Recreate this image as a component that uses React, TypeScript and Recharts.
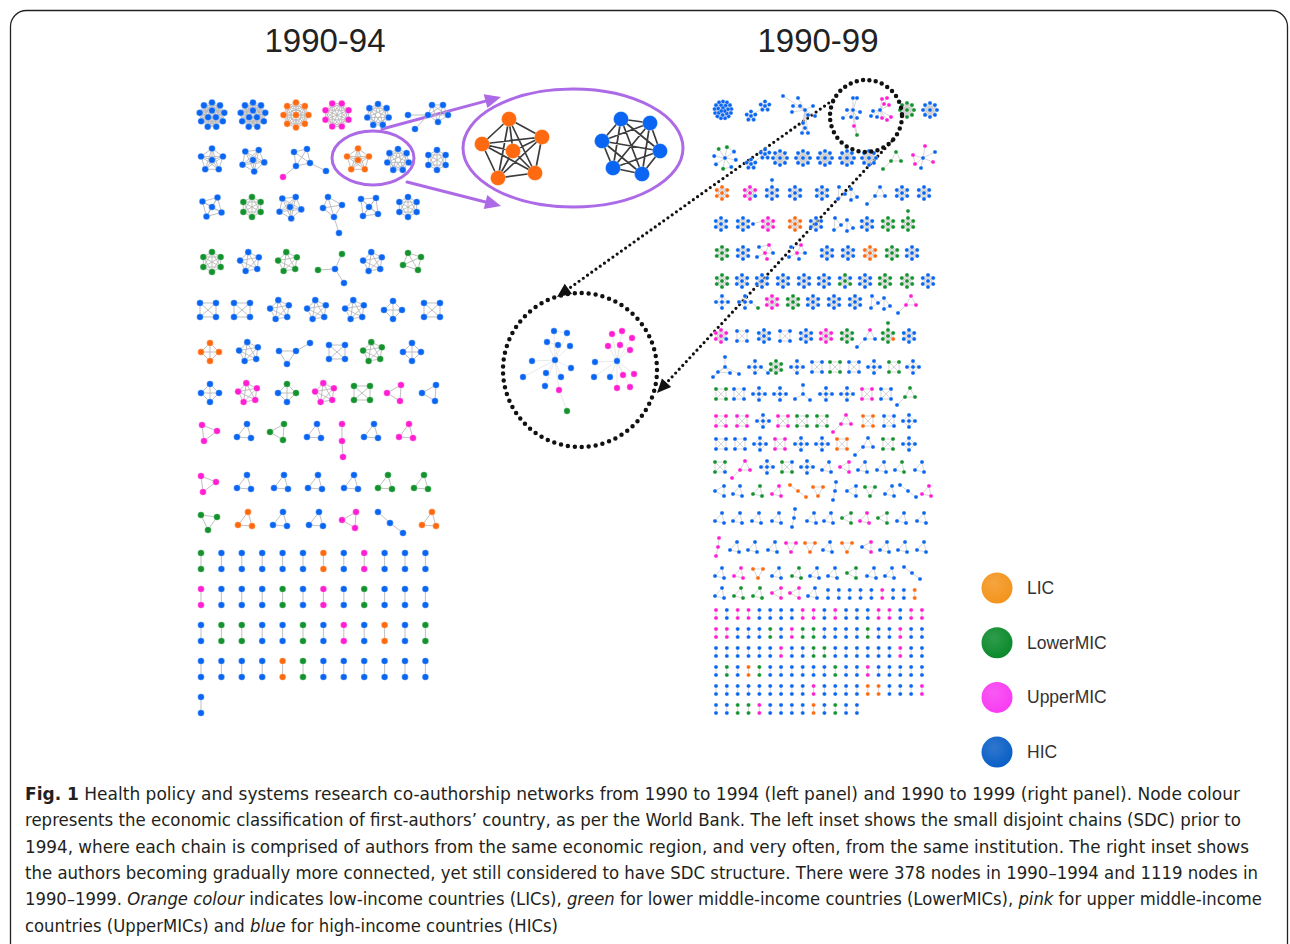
import React from "react";
import { ScatterChart, Scatter, XAxis, YAxis, ReferenceDot, ReferenceLine } from "recharts";

const W = 1290;
const H = 944;

// node colour classes: B = HIC, G = LowerMIC, P = UpperMIC, O = LIC
const NODE_FILL: Record<string, string> = { B: "#0a66f2", G: "#13922e", P: "#ff1ed2", O: "#ff6a10" };

// ---- 1990-94 panel: row centres and clusters ("x:motif:colours")
const leftRowY = [115, 160, 207, 262, 310, 352, 393, 432, 483, 520];
const leftClusters = [
  "212:dense9:B 253:dense9:B 296:ring8c:O 337:ring8:P 378:ring7:B 430:hexTail:B",
  "212:wheel5:B 253:wheel5b:B 303:sqTail:BBBBBP 358:wheel5:O 398:ring7:B 437:ring6:B",
  "212:wheel4:B 252:ring6:G 290:wheel5b:B 330:kiteTail:B 369:sqc:B 408:ring6:B",
  "212:ring6:G 250:pent:B 288:pent:G 333:Yl:BGGB 373:pent:B 412:quad:G",
  "208:sqx:B 242:sqx:B 280:pent:B 317:pent:B 355:pent:B 393:dia:B 432:sqx:B",
  "210:dia:O 249:pent:B 290:triTailL:B 337:sqx:B 373:pent:G 412:dia:B",
  "210:dia:B 248:pent:P 287:dia:GGBB 325:pent:P 362:sqx:G 397:triL:P 432:triL:B",
  "208:triP:P 245:triA:B 280:triL:G 315:triA:B 342:vch3:P 372:triA:B 407:triA:P",
  "207:triP:P 245:triA:B 282:triA:B 316:triA:B 352:triA:B 386:triA:G 422:triA:G",
  "208:triV:G 246:triA:O 281:triA:B 317:triA:B 352:triL:P 389:dch3:B 430:triA:O",
];
const leftPairRows = ["GBBBBBOBPBBB", "PBBBGBPBGBBB", "BGGBBGBPBOBG", "BBBBOGBBBBBB", "B"];
const leftPairY = [553, 589, 625, 661, 697];

// ---- 1990-99 panel
const rightRowY = [110, 158, 193, 224, 253, 281, 302, 336, 367, 394, 421, 444, 467, 491, 518, 547, 573, 593];
const rightClusters = [
  "723:ball:B 757:dfl:B 805:spider:B 853:treeA:BBBBBBBBPG 880:treeB:BBBPPPPPPPB 907:fl8:G 930:fl8:B",
  "725:star:BGBBBGBBG 757:dfl:B 780:fl8:B 803:fl8:B 825:fl8:B 847:fl8:B 869:fl8:B 893:triTail:G 923:star5:BPPPPB",
  "722:fl:O 750:fl:PPBPPPP 772:flTail:B 795:fl:B 822:fl:B 847:twoTri:B 877:triTail:B 902:fl:B 924:fl:B",
  "721:fl:B 743:fl:B 768:flTailL:PPPPPPPB 795:fl:O 816:fl:B 843:twoTri:B 867:fl:B 888:fl:G 908:flTail:G",
  "722:fl:G 743:fl:B 765:irr:PBPBPB 797:irr:PBPBBB 827:fl:B 848:fl:B 870:fl:O 892:fl:G 912:fl:B",
  "722:fl:G 742:fl:B 762:fl:B 783:fl:B 804:fl:B 824:fl:B 845:fl:GBGBGBG 865:fl:B 885:fl:G 907:fl:G 928:fl:B",
  "722:dia:B 745:diaTail:BBBBBG 772:fl:P 793:fl:G 813:fl:B 834:fl:B 855:fl:B 880:twoTri:B 908:triTail:PPPB",
  "721:fl:PPBPPPP 742:sq:B 764:fl:B 785:sq:B 806:fl:B 826:fl:P 847:fl:G 867:triTail:PBBB 888:flTail:GGOGGGGG 909:fl:B",
  "725:star4:B 755:diaTail:B 776:fl:G 797:dia:B 817:sq:B 835:sq:G 854:sq:B 874:dia:B 894:sq:G 913:dia:B",
  "721:sq:G 739:sq:B 759:dia:B 780:dia:B 803:Y:B 826:dia:B 847:dia:B 867:sq:P 886:sq:B 907:triTail:GGGB",
  "721:sq:P 742:sq:P 763:dia:B 783:sq:P 802:sq:G 822:sq:G 843:triTail:P 868:sq:O 889:sq:B 909:dia:B",
  "721:sq:B 740:sq:B 760:dia:B 780:sq:P 801:dia:B 822:dia:B 842:sq:O 865:triTail:B 888:sq:G 909:dia:B",
  "720:sq:GGBG 742:triTail:P 767:dia:B 787:sq:GBGG 807:dia:B 827:tri:B 845:triL:P 863:tri:B 882:tri:B 900:tri:GBG 920:tri:B",
  "720:triL:B 738:tri:B 758:tri:G 777:tri:P 798:dch:O 818:triV:O 835:vch:B 852:triL:B 870:triV:G 890:tri:B 908:dch:B 927:tri:P",
  "720:tri:B 738:tri:B 757:tri:B 777:tri:B 794:vch:B 812:tri:B 829:tri:B 847:triL:G 865:tri:P 883:triL:G 902:tri:B 922:tri:B",
  "718:vch:P 735:tri:B 753:tri:B 773:tri:B 791:triV:P 810:triV:O 828:tri:B 847:triV:O 867:triL:BP 885:tri:B 903:tri:B 922:tri:B",
  "720:tri:B 739:tri:P 758:triV:O 777:tri:B 797:tri:G 815:tri:B 833:tri:B 852:triL:G 872:tri:B 890:tri:B 912:dch:B",
  "720:tri:B 739:tri:G 758:tri:G 777:triL:P 795:triL:P 813:tri:B",
];
const rightPairRows = [
  "BBBBBPBBO",
  "PBPPBBBBPPBPBBBPPBPP",
  "PPBBBGBPGGBBBBGBBPBB",
  "BBBBBBPBBGGBBBBBBPBB",
  "BGBOGBBBBBBGBBPBBBBB",
  "BBBBBBBBBPBBBBOOBBBP",
  "BBGGPBBBBOBGBB",
];
const rightPairY = [590, 610, 629, 648, 667, 686, 705];
const rightPairX0 = [828, 716, 716, 716, 716, 716, 716];

// ---- left inset (two enlarged chains)
const insetOrange = [[509, 119], [542, 137], [513, 151], [482, 144], [498, 178], [535, 173]];
const insetBlue = [[621, 119], [650, 123], [660, 151], [642, 174], [613, 168], [602, 141]];

// ---- right inset (enlarged view)
const zoomNodes: [number, number, string][] = [
  [555, 360, "B"], [554, 331, "B"], [567, 333, "B"], [547, 342, "B"], [558, 345, "B"], [570, 346, "B"],
  [532, 361, "B"], [571, 368, "B"], [523, 377, "B"], [546, 373, "B"], [561, 377, "B"], [545, 386, "B"],
  [559, 390, "P"], [567, 411, "G"],
  [617, 361, "B"], [595, 362, "B"], [594, 377, "B"], [610, 377, "B"],
  [612, 334, "P"], [622, 331, "P"], [632, 338, "P"], [608, 346, "P"], [620, 345, "P"], [630, 350, "P"],
  [623, 375, "P"], [634, 374, "P"], [617, 388, "P"], [630, 387, "P"],
];
const zoomLinks: [number, number][] = [
  [0, 1], [0, 2], [0, 3], [0, 4], [0, 5], [0, 6], [0, 7], [0, 8], [0, 9], [0, 10], [0, 11], [0, 12], [12, 13], [3, 4], [1, 2],
  [14, 15], [14, 16], [14, 17], [14, 18], [14, 19], [14, 20], [14, 21], [14, 22], [14, 23], [14, 24], [14, 25], [14, 26], [14, 27],
];

const legendItems = [
  { label: "LIC", color: "#f3941d" },
  { label: "LowerMIC", color: "#0b8a2c" },
  { label: "UpperMIC", color: "#f83cf2" },
  { label: "HIC", color: "#0a5fc6" },
];

const captionLines = [
  [["b", "Fig. 1"], ["n", " Health policy and systems research co-authorship networks from 1990 to 1994 (left panel) and 1990 to 1999 (right panel). Node colour"]],
  [["n", "represents the economic classification of first-authors’ country, as per the World Bank. The left inset shows the small disjoint chains (SDC) prior to"]],
  [["n", "1994, where each chain is comprised of authors from the same economic region, and very often, from the same institution. The right inset shows"]],
  [["n", "the authors becoming gradually more connected, yet still considered to have SDC structure. There were 378 nodes in 1990–1994 and 1119 nodes in"]],
  [["n", "1990–1999. "], ["i", "Orange colour"], ["n", " indicates low-income countries (LICs), "], ["i", "green"], ["n", " for lower middle-income countries (LowerMICs), "], ["i", "pink"], ["n", " for upper middle-income"]],
  [["n", "countries (UpperMICs) and "], ["i", "blue"], ["n", " for high-income countries (HICs)"]],
];
const captionWidths = [1215, 1216, 1224, 1233, 1237, 533];

// ---------- motif geometry ----------
type Pt = [number, number];
type Motif = { n: Pt[]; e: [number, number][] };
const ring = (k: number, r: number, rot = -90, dx = 0, dy = 0): Pt[] =>
  Array.from({ length: k }, (_, i) => {
    const a = ((rot + (360 * i) / k) * Math.PI) / 180;
    return [dx + r * Math.cos(a), dy + r * Math.sin(a)] as Pt;
  });
const pairsOf = (from: number, to: number) => {
  const e: [number, number][] = [];
  for (let i = from; i < to; i++) for (let j = i + 1; j < to; j++) e.push([i, j]);
  return e;
};
const full = (n: Pt[]): Motif => ({ n, e: pairsOf(0, n.length) });
const chain = (n: Pt[]): Motif => ({ n, e: n.slice(1).map((_, i) => [i, i + 1] as [number, number]) });
const plus = (m: Motif, extra: Pt[], links: [number, number][]): Motif => ({ n: [...m.n, ...extra], e: [...m.e, ...links] });
const hub = (leaves: Pt[], extra: [number, number][] = []): Motif => ({
  n: [[0, 0], ...leaves],
  e: [...leaves.map((_, i) => [0, i + 1] as [number, number]), ...extra],
});

const LEFT_MOTIFS: Record<string, Motif> = {
  dense9: full([...ring(9, 12.5), ...ring(3, 4.5, 30)]),
  ring8c: full([...ring(8, 12.5), [0, 0]]),
  ring8: full(ring(8, 12.5, -67.5)),
  ring7: full(ring(7, 11)),
  ring6: full(ring(6, 10)),
  wheel5: full([...ring(5, 11.5), [0, 0]]),
  wheel5b: full([...ring(5, 11.5, -60), [0, 0]]),
  wheel4: full([...ring(4, 11, -60), [0, 0]]),
  pent: full(ring(5, 10, -100)),
  quad: full([[-4, -9], [9, -5], [6, 8], [-9, 3]]),
  sqx: full([[-8, -7], [8, -7], [8, 7], [-8, 7]]),
  dia: full(ring(4, 9)),
  sqc: full([[-8, -8], [7, -9], [9, 7], [-6, 9], [0, 0]]),
  triA: full([[2, -8], [-8, 5], [6, 6]]),
  triL: full([[4, -8], [-10, 0], [3, 8]]),
  triP: full([[-6, -7], [9, -1], [-4, 9]]),
  triV: full([[-7, -5], [9, -3], [0, 10]]),
  vch3: chain([[0, -8], [0, 9], [1, 25]]),
  dch3: chain([[-11, -8], [1, 3], [14, 13]]),
  hexTail: plus(full([[-2, 0], [2, -10], [13, -10], [18, 0], [8, 7]]), [[-22, 0], [-15, 14]], [[0, 5], [0, 6]]),
  sqTail: plus(full([[-9, -8], [4, -11], [7, 3], [-7, 6]]), [[23, 11], [-20, 17]], [[2, 4], [3, 5]]),
  kiteTail: plus(full([[-2, -10], [12, -2], [-7, 1], [4, 10]]), [[9, 26]], [[3, 4]]),
  triTailL: plus(full([[-11, -1], [6, -1], [-3, 12]]), [[20, -9]], [[1, 3]]),
  Yl: { n: [[2, 7], [-15, 8], [9, -8], [11, 21]], e: [[0, 1], [0, 2], [0, 3]] },
};

const flower = () => full([...ring(6, 6), [0, 0]]);
const RIGHT_MOTIFS: Record<string, Motif> = {
  ball: full([...ring(13, 8.5), ...ring(7, 5, -60), ...ring(3, 2)]),
  fl8: full([...ring(8, 7), [0, 0]]),
  fl: flower(),
  flTail: plus(flower(), [[0, -13]], [[0, 7]]),
  flTailL: plus(flower(), [[-15, 0]], [[5, 7]]),
  sq: full([[-5, -5], [5, -5], [5, 5], [-5, 5]]),
  dia: full([...ring(4, 6), [0, 0]]),
  tri: full([[2, -5], [-5, 3], [4, 5]]),
  triV: full([[-5, -4], [5, -4], [0, 5]]),
  triL: full([[-5, 0], [4, -5], [4, 5]]),
  vch: chain([[1, -9], [0, 0], [-2, 9]]),
  dch: chain([[-8, -6], [0, 0], [8, 6]]),
  triTail: plus(full([[3, -6], [8, 3], [-2, 3]]), [[-10, 11]], [[2, 3]]),
  diaTail: plus(full([...ring(4, 6), [0, 0]]), [[13, 6]], [[1, 5]]),
  twoTri: { n: [[-8, -6], [-2, 1], [-9, 6], [4, -4], [10, 4], [4, 7]], e: [[0, 1], [1, 2], [2, 0], [1, 3], [3, 4], [4, 5], [5, 3]] },
  star: hub(ring(8, 11, -80), [[1, 2], [4, 5]]),
  star5: hub([[2, -12], [10, 4], [-10, -3], [-8, 6], [-2, 10], [12, -6]], [[3, 4]]),
  star4: hub([[0, -10], [-7, 5], [5, 6], [14, 7], [-12, 10]], [[2, 3], [2, 5]]),
  Y: hub([[0, -9], [-8, 5], [7, 6]]),
  irr: hub([[-6, -6], [4, -8], [8, 0], [2, 6], [-8, 4]], [[1, 2], [2, 3]]),
  dfl: {
    n: [...ring(5, 4.5, -90, -6, 6), [-6, 6], ...ring(5, 4.5, -90, 8, -4), [8, -4]],
    e: [...pairsOf(0, 6), ...pairsOf(6, 12), [5, 11]],
  },
  spider: hub(
    [[-22, -14], [-7, -12], [-12, -4], [-13, 2], [-5, -4], [8, -4], [3, 5], [10, 6], [-2, 13], [-3, 23], [3, 23], [0, 18]],
    [[9, 12], [12, 10], [12, 11], [10, 11]]
  ),
  treeA: hub([[0, -12], [4, -12], [-6, 0], [7, 2], [-10, 8], [-2, 7], [4, 8], [1, 16], [4, 25]], [[8, 9]]),
  treeB: hub([[-7, 1], [-3, 7], [2, -11], [7, -12], [4, -6], [9, -5], [2, 8], [7, 10], [11, 7], [-9, 6]]),
};

type NodeDatum = { x: number; y: number; cls: string };
type EdgeEnd = { x: number; y: number };

function buildPanel(rowsY: number[], rows: string[], motifs: Record<string, Motif>) {
  const nodes: NodeDatum[] = [];
  const edges: EdgeEnd[] = [];
  rows.forEach((row, ri) => {
    row.trim().split(/\s+/).forEach((tok) => {
      const [xs, name, cols] = tok.split(":");
      const m = motifs[name];
      const cx = Number(xs);
      const cy = rowsY[ri];
      const pts = m.n.map(([dx, dy]) => ({ x: cx + dx, y: cy + dy }));
      pts.forEach((p, i) => nodes.push({ ...p, cls: cols[Math.min(i, cols.length - 1)] }));
      m.e.forEach(([a, b]) => edges.push(pts[a], pts[b]));
    });
  });
  return { nodes, edges };
}

function addPairs(target: { nodes: NodeDatum[]; edges: EdgeEnd[] }, rows: string[], ys: number[], x0s: number[], step: number, gap: number) {
  rows.forEach((row, ri) => {
    row.split("").forEach((c, i) => {
      const a = { x: x0s[ri] + i * step, y: ys[ri] };
      const b = { x: a.x, y: ys[ri] + gap };
      target.nodes.push({ ...a, cls: c }, { ...b, cls: c });
      target.edges.push(a, b);
    });
  });
}

const left = buildPanel(leftRowY, leftClusters, LEFT_MOTIFS);
addPairs(left, leftPairRows, leftPairY, leftPairRows.map(() => 201), 20.4, 16);
const right = buildPanel(rightRowY, rightClusters, RIGHT_MOTIFS);
addPairs(right, rightPairRows, rightPairY, rightPairX0, 10.84, 8);

const insetNodes: NodeDatum[] = [
  ...insetOrange.map(([x, y]) => ({ x, y, cls: "O" })),
  ...insetBlue.map(([x, y]) => ({ x, y, cls: "B" })),
];
const insetEdges: EdgeEnd[] = [];
[insetOrange, insetBlue].forEach((grp) =>
  pairsOf(0, grp.length).forEach(([a, b]) => insetEdges.push({ x: grp[a][0], y: grp[a][1] }, { x: grp[b][0], y: grp[b][1] }))
);
const zoomData: NodeDatum[] = zoomNodes.map(([x, y, cls]) => ({ x, y, cls }));
const zoomEdges: EdgeEnd[] = [];
zoomLinks.forEach(([a, b]) => zoomEdges.push(zoomData[a], zoomData[b]));

// ---------- render helpers ----------
const segments = (stroke: string, width: number) => (props: any) => {
  const pts = props.points || [];
  let d = "";
  for (let i = 0; i + 1 < pts.length; i += 2) d += `M${pts[i].x},${pts[i].y}L${pts[i + 1].x},${pts[i + 1].y}`;
  return <path d={d} stroke={stroke} strokeWidth={width} fill="none" />;
};
const noDot = () => <g />;
const dot = (r: number) => (p: any) => (
  <circle cx={p.cx} cy={p.cy} r={r} fill={NODE_FILL[p.payload?.cls] ?? NODE_FILL.B} stroke="rgba(255,255,255,0.55)" strokeWidth={0.6} />
);

const ellipseShape = (rx: number, ry: number, stroke: string, width: number, dash?: string) => (p: any) => (
  <ellipse cx={p.cx} cy={p.cy} rx={rx} ry={ry} fill="none" stroke={stroke} strokeWidth={width} strokeDasharray={dash} strokeLinecap="round" />
);

const arrowShape = (stroke: string, width: number, head: number, dash?: string) => (p: any) => {
  const { x1, y1, x2, y2 } = p;
  const len = Math.hypot(x2 - x1, y2 - y1) || 1;
  const ux = (x2 - x1) / len;
  const uy = (y2 - y1) / len;
  const bx = x2 - ux * head;
  const by = y2 - uy * head;
  const w = head * 0.45;
  return (
    <g>
      <line x1={x1} y1={y1} x2={bx} y2={by} stroke={stroke} strokeWidth={width} strokeDasharray={dash} strokeLinecap="round" />
      <polygon points={`${x2},${y2} ${bx - uy * w},${by + ux * w} ${bx + uy * w},${by - ux * w}`} fill={stroke} />
    </g>
  );
};

const PURPLE = "#ad6ae6";
const CAPTION_FONT = "'DejaVu Sans Condensed', 'Liberation Sans Narrow', 'Liberation Sans', sans-serif";

export default function App() {
  return (
    <div style={{ position: "absolute", left: 0, top: 0, width: W, height: H, background: "#fff" }}>
      <svg width={W} height={H} style={{ position: "absolute", left: 0, top: 0 }}>
        <defs>
          {legendItems.map((it, i) => (
            <radialGradient key={it.label} id={`lg${i}`} cx="40%" cy="35%" r="65%">
              <stop offset="0%" stopColor={it.color} stopOpacity={0.85} />
              <stop offset="100%" stopColor={it.color} />
            </radialGradient>
          ))}
        </defs>
        <rect x={10.5} y={10.5} width={1277} height={990} rx={16} fill="none" stroke="#222" strokeWidth={1.3} />
        <text x={325} y={52} textAnchor="middle" fontFamily="'Liberation Sans', Arial, sans-serif" fontSize={33} fill="#222">
          1990-94
        </text>
        <text x={818} y={52} textAnchor="middle" fontFamily="'Liberation Sans', Arial, sans-serif" fontSize={33} fill="#222">
          1990-99
        </text>
        {legendItems.map((it, i) => (
          <g key={it.label}>
            <circle cx={997} cy={588 + i * 54.7} r={15.5} fill={`url(#lg${i})`} />
            <text x={1027} y={594 + i * 54.7} fontFamily="'Liberation Sans', Arial, sans-serif" fontSize={17.5} fill="#333">
              {it.label}
            </text>
          </g>
        ))}
        {captionLines.map((line, i) => (
          <text
            key={i}
            x={25}
            y={800 + i * 26.3}
            textLength={captionWidths[i]}
            lengthAdjust="spacingAndGlyphs"
            fontFamily={CAPTION_FONT}
            fontSize={18}
            fill="#231f20"
          >
            {line.map(([k, s], j) => (
              <tspan key={j} fontWeight={k === "b" ? 700 : 400} fontStyle={k === "i" ? "italic" : "normal"}>
                {s}
              </tspan>
            ))}
          </text>
        ))}
      </svg>
      <div style={{ position: "absolute", left: 0, top: 0 }}>
        <ScatterChart width={W} height={H} margin={{ top: 0, right: 0, bottom: 0, left: 0 }}>
          <XAxis type="number" dataKey="x" domain={[0, W]} hide allowDataOverflow />
          <YAxis type="number" dataKey="y" domain={[0, H]} reversed hide allowDataOverflow />
          <Scatter data={left.edges} shape={noDot} line={segments("#b8b8b8", 0.9)} isAnimationActive={false} />
          <Scatter data={right.edges} shape={noDot} line={segments("#c4c4c4", 0.7)} isAnimationActive={false} />
          <Scatter data={zoomEdges} shape={noDot} line={segments("#e2e2e2", 0.8)} isAnimationActive={false} />
          <Scatter data={insetEdges} shape={noDot} line={segments("#3c3c3c", 1.7)} isAnimationActive={false} />
          <Scatter data={left.nodes} shape={dot(3.3)} isAnimationActive={false} />
          <Scatter data={right.nodes} shape={dot(2.1)} isAnimationActive={false} />
          <Scatter data={zoomData} shape={dot(3.2)} isAnimationActive={false} />
          <Scatter data={insetNodes} shape={dot(7.6)} isAnimationActive={false} />
          <ReferenceDot x={373} y={158} shape={ellipseShape(41, 27, PURPLE, 3)} />
          <ReferenceDot x={573} y={148} shape={ellipseShape(110, 59, PURPLE, 3)} />
          <ReferenceLine segment={[{ x: 382, y: 129 }, { x: 501, y: 97 }]} shape={arrowShape(PURPLE, 3, 16)} />
          <ReferenceLine segment={[{ x: 407, y: 182 }, { x: 501, y: 206 }]} shape={arrowShape(PURPLE, 3, 16)} />
          <ReferenceDot x={866} y={116} shape={ellipseShape(36, 36, "#111", 4.5, "0 6.4")} />
          <ReferenceDot x={580} y={370} shape={ellipseShape(77, 77, "#111", 4.5, "0 7")} />
          <ReferenceLine segment={[{ x: 833, y: 100 }, { x: 557, y: 297 }]} shape={arrowShape("#111", 3.2, 14, "0 5.2")} />
          <ReferenceLine segment={[{ x: 892, y: 141 }, { x: 657, y: 393 }]} shape={arrowShape("#111", 3.2, 14, "0 5.2")} />
        </ScatterChart>
      </div>
    </div>
  );
}
